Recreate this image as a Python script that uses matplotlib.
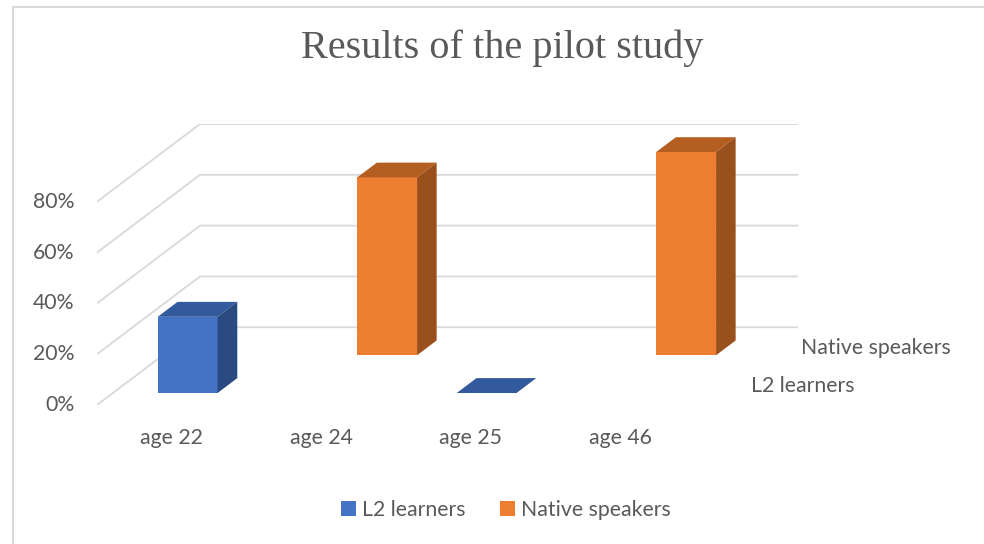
import matplotlib
matplotlib.use("Agg")
import matplotlib.pyplot as plt
from matplotlib.patches import Polygon, Patch
from matplotlib.lines import Line2D

plt.rcParams["font.family"] = ["Lato", "DejaVu Sans"]

categories = ["age 22", "age 24", "age 25", "age 46"]
series = ["L2 learners", "Native speakers"]
l2_learners = [30, None, 0, None]
native_speakers = [None, 70, None, 80]
yticks = [0, 20, 40, 60, 80]

# face colours: front, top, side
colors = {
    "L2 learners": ("#4472C4", "#335A9C", "#2B4A82"),
    "Native speakers": ("#ED7D31", "#B55E22", "#9A501D"),
}

# oblique projection: depth 0..1 shifts right (category units) and up (percent)
DX, DY = 0.689, 30.6
rows = {"L2 learners": (0.154, 0.346), "Native speakers": (0.64, 0.83)}
BAR_W = 0.40
grid_c = "#D9D9D9"
text_c = "#595959"
FS = 15.3


def proj(x, v, t):
    return (x + DX * t, v + DY * t)


fig = plt.figure(figsize=(9.84, 5.44), dpi=100)
W, H = 984, 544
ax = fig.add_axes([97 / W, (H - 405) / H, (798 - 97) / W, (405 - 124) / H])
n = len(categories)
ax.set_xlim(0, n + DX)
ax.set_ylim(0, max(yticks) + DY)
ax.axis("off")

# gridlines: side wall diagonal then back wall horizontal
for v in yticks:
    p0 = proj(0, v, 0)
    p1 = proj(0, v, 1)
    p2 = proj(n, v, 1)
    ax.plot([p0[0], p1[0], p2[0]], [p0[1], p1[1], p2[1]], color=grid_c,
            lw=1.3, zorder=0, solid_capstyle="butt")
    ax.text(-0.15, v, f"{v}%", ha="right", va="center", fontsize=FS,
            color=text_c)


def draw_bar(x0, x1, v, t0, t1, cols, z):
    front, top, side = cols
    ax.add_patch(Polygon([proj(x0, 0, t0), proj(x1, 0, t0), proj(x1, v, t0),
                          proj(x0, v, t0)], closed=True, fc=front, ec="none",
                         zorder=z))
    ax.add_patch(Polygon([proj(x0, v, t0), proj(x1, v, t0), proj(x1, v, t1),
                          proj(x0, v, t1)], closed=True, fc=top, ec="none",
                         zorder=z))
    ax.add_patch(Polygon([proj(x1, 0, t0), proj(x1, 0, t1), proj(x1, v, t1),
                          proj(x1, v, t0)], closed=True, fc=side, ec="none",
                         zorder=z))


# back row first so the front row covers it
for z, (name, vals) in enumerate([("Native speakers", native_speakers),
                                  ("L2 learners", l2_learners)]):
    t0, t1 = rows[name]
    for i, v in enumerate(vals):
        if v is None:
            continue
        draw_bar(i + 0.5 - BAR_W / 2, i + 0.5 + BAR_W / 2, v, t0, t1,
                 colors[name], 2 + z)
    # series name along the depth axis
    tm = (t0 + t1) / 2
    ax.annotate(name, proj(n, 0, tm), xytext=(22, 0),
                textcoords="offset points", ha="left", va="center",
                fontsize=FS, color=text_c, annotation_clip=False)

# category labels under the front edge
for i, c in enumerate(categories):
    ax.annotate(c, (i + 0.5, 0), xytext=(0, -24),
                textcoords="offset points", ha="center", va="center",
                fontsize=FS, color=text_c, annotation_clip=False)

fig.text(502 / W, 1 - 48 / H, "Results of the pilot study", ha="center",
         va="center", fontsize=29, color=text_c, family="Liberation Serif")

handles = [Patch(fc=colors[s][0], ec="none") for s in series]
fig.legend(handles, series, loc="center", bbox_to_anchor=(506 / W, 1 - 510 / H),
           ncol=2, frameon=False, fontsize=FS, labelcolor=text_c,
           handlelength=0.7, handleheight=0.7, handletextpad=0.3,
           columnspacing=1.6)

# chart area border (left and top edges)
fig.add_artist(Line2D([12.5 / W, 12.5 / W, 1], [0, 1 - 6.5 / H, 1 - 6.5 / H],
                      transform=fig.transFigure, color="#D9D9D9", lw=1.5))

fig.savefig("out.png", dpi=100)
